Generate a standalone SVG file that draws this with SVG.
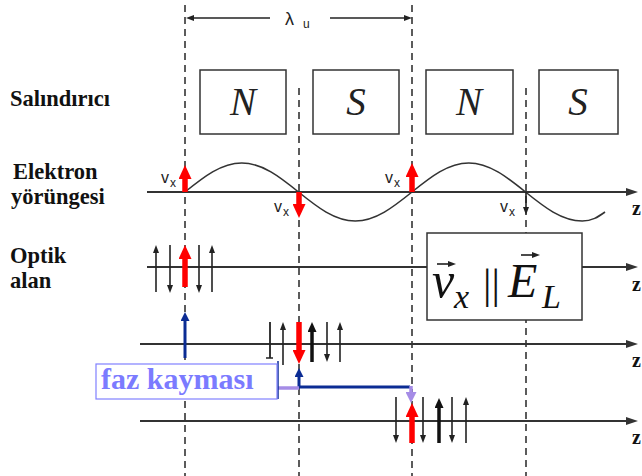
<svg xmlns="http://www.w3.org/2000/svg" width="642" height="476" viewBox="0 0 642 476">
<defs>
<marker id="mB" markerUnits="userSpaceOnUse" markerWidth="8" markerHeight="6" refX="1" refY="3" orient="auto"><path d="M0,0 L8,3 L0,6 z" fill="#222"/></marker>
<marker id="mK" markerUnits="userSpaceOnUse" markerWidth="10" markerHeight="9" refX="1" refY="4.5" orient="auto"><path d="M0,0 L10,4.5 L0,9 z" fill="#111"/></marker>
<marker id="mR" markerUnits="userSpaceOnUse" markerWidth="14" markerHeight="13" refX="1" refY="6.5" orient="auto"><path d="M0,0 L14,6.5 L0,13 z" fill="#ff0000"/></marker>
<marker id="mBl" markerUnits="userSpaceOnUse" markerWidth="9" markerHeight="9" refX="1" refY="4.5" orient="auto"><path d="M0,0 L9,4.5 L0,9 z" fill="#0b2c94"/></marker>
<marker id="mL" markerUnits="userSpaceOnUse" markerWidth="11" markerHeight="11" refX="1" refY="5.5" orient="auto"><path d="M0,0 L11,5.5 L0,11 z" fill="#a58ce6"/></marker>
<marker id="mA" markerUnits="userSpaceOnUse" markerWidth="12" markerHeight="8" refX="1" refY="4" orient="auto"><path d="M0,0 L12,4 L0,8 z" fill="#333"/></marker>
<marker id="mS" markerUnits="userSpaceOnUse" markerWidth="8" markerHeight="6" refX="1" refY="3" orient="auto"><path d="M0,0 L8,3 L0,6 z" fill="#222"/></marker>
</defs>
<style>
.dash{stroke:#333;stroke-width:1.6;stroke-dasharray:7,5;fill:none}
.axis{stroke:#333;stroke-width:2;fill:none;marker-end:url(#mA)}
.thin{stroke:#222;stroke-width:1.6;marker-end:url(#mB)}
.thick{stroke:#111;stroke-width:3.5;marker-end:url(#mK)}
.red{stroke:#ff0000;stroke-width:5.5;marker-end:url(#mR)}
.blue{stroke:#0b2c94;stroke-width:3;fill:none;marker-end:url(#mBl)}
.mag{fill:#fff;stroke:#333;stroke-width:1.5}
.serif{font-family:'Liberation Serif','Times New Roman',serif}
.pole{font-style:italic;font-size:39px;fill:#222;text-anchor:middle}
.lab{font-weight:bold;font-size:22.5px;fill:#111}
.vx{font-family:'Liberation Sans',Arial,sans-serif;font-size:16px;fill:#222}
.vxs{font-family:'Liberation Sans',Arial,sans-serif;font-size:12px;fill:#222}
.z{font-weight:bold;font-size:20px;fill:#111}
.math{font-style:italic;fill:#111}
</style>
<rect width="642" height="476" fill="#fff"/>

<g id="labels">
<text class="serif lab" x="10" y="106">Salındırıcı</text>
<text class="serif lab" x="13" y="179">Elektron</text>
<text class="serif lab" x="11" y="204">yörüngesi</text>
<text class="serif lab" x="10" y="263">Optik</text>
<text class="serif lab" x="10" y="288">alan</text>
</g>

<g id="dashed-lines">
<line class="dash" x1="185" y1="5" x2="185" y2="476"/>
<line class="dash" x1="299" y1="88" x2="299" y2="476"/>
<line class="dash" x1="412" y1="5" x2="412" y2="476"/>
<line class="dash" x1="526" y1="88" x2="526" y2="476"/>
</g>

<g id="lambda">
<line x1="270" y1="18" x2="193" y2="18" stroke="#222" stroke-width="1.5" marker-end="url(#mS)"/>
<line x1="330" y1="18" x2="405" y2="18" stroke="#222" stroke-width="1.5" marker-end="url(#mS)"/>
<text class="vx" x="285" y="25" style="font-size:18px">λ</text>
<text class="vxs" x="303" y="28">u</text>
</g>

<g id="magnet-N1"><rect class="mag" x="200" y="70" width="86" height="64"/><text class="serif pole" x="243" y="115">N</text></g>
<g id="magnet-S1"><rect class="mag" x="313" y="70" width="86" height="64"/><text class="serif pole" x="356" y="115">S</text></g>
<g id="magnet-N2"><rect class="mag" x="426" y="70" width="87" height="64"/><text class="serif pole" x="469" y="115">N</text></g>
<g id="magnet-S2"><rect class="mag" x="539" y="70" width="79" height="64"/><text class="serif pole" x="578" y="115">S</text></g>

<g id="connectors">
<line class="axis" x1="147" y1="192" x2="627" y2="192"/>
<line class="axis" x1="147" y1="267" x2="627" y2="267"/>
<line class="axis" x1="140" y1="344" x2="627" y2="344"/>
<line class="axis" x1="140" y1="421" x2="627" y2="421"/>
<path d="M185,192 C203.5,177.1 221.2,163 241.75,163 C262.3,163 280,177.1 298.5,192 C317,206.9 334.7,221 355.25,221 C375.8,221 393.5,206.9 412,192 C430.5,177.1 448.2,163 468.75,163 C489.3,163 507,177.1 525.5,192 C544,206.9 561.7,221 582.25,221 C592,221 598,217 605,212" fill="none" stroke="#333" stroke-width="1.6"/>
</g>

<g id="electron-arrows">
<line class="red" x1="185" y1="192" x2="185" y2="178"/>
<line class="red" x1="299" y1="192" x2="299" y2="205"/>
<line class="red" x1="412" y1="192" x2="412" y2="176"/>
<line class="thin" x1="526" y1="192" x2="526" y2="208"/>
<text class="vx" x="161" y="183">v</text><text class="vxs" x="170" y="187">x</text>
<text class="vx" x="274" y="212">v</text><text class="vxs" x="283" y="216">x</text>
<text class="vx" x="385" y="183">v</text><text class="vxs" x="394" y="187">x</text>
<text class="vx" x="500" y="212">v</text><text class="vxs" x="509" y="216">x</text>
</g>

<g id="field-1">
<line class="thin" x1="156" y1="292" x2="156" y2="252"/>
<line class="thin" x1="170" y1="245" x2="170" y2="286"/>
<line class="thin" x1="199" y1="245" x2="199" y2="286"/>
<line class="thin" x1="212" y1="292" x2="212" y2="252"/>
<line class="red" x1="185" y1="287" x2="185" y2="258"/>
</g>

<g id="field-2">
<line x1="270" y1="322" x2="270" y2="358" stroke="#222" stroke-width="1.8"/>
<line x1="266" y1="358" x2="273" y2="358" stroke="#222" stroke-width="1.5"/>
<line class="thin" x1="283" y1="365" x2="283" y2="329"/>
<line class="thick" x1="312" y1="362" x2="312" y2="331"/>
<line class="thin" x1="327" y1="322" x2="327" y2="355"/>
<line class="thin" x1="340" y1="362" x2="340" y2="329"/>
<line class="red" x1="299" y1="322" x2="299" y2="351"/>
</g>

<g id="field-3">
<line class="thin" x1="396" y1="397" x2="396" y2="436"/>
<line class="thin" x1="423" y1="397" x2="423" y2="436"/>
<line class="thick" x1="439" y1="443" x2="439" y2="407"/>
<line class="thin" x1="452" y1="397" x2="452" y2="436"/>
<line class="thin" x1="466" y1="443" x2="466" y2="404"/>
<line class="red" x1="412" y1="443" x2="412" y2="416"/>
</g>

<g id="phase-shift">
<line class="blue" x1="185" y1="358" x2="185" y2="320"/>
<path class="blue" d="M410,387 H299 V376"/>
<line x1="278" y1="388" x2="299" y2="388" stroke="#a58ce6" stroke-width="3.5"/>
<line x1="411" y1="386" x2="411" y2="393" stroke="#a58ce6" stroke-width="3.5" marker-end="url(#mL)"/>
<line x1="278" y1="361" x2="278" y2="399" stroke="#0b2c94" stroke-width="1.5"/>
</g>

<g id="faz-kaymasi">
<rect x="96" y="364" width="181" height="35" fill="#fff" stroke="#8080ff" stroke-width="1.2"/>
<text class="serif" x="101" y="389" font-weight="bold" font-size="30" fill="#7b7bff">faz kayması</text>
</g>

<g id="vx-parallel-EL">
<rect x="427" y="233" width="155" height="87" fill="#fff" stroke="#333" stroke-width="1.5"/>
<text class="serif math" x="432" y="297" font-size="50">v</text>
<text class="serif math" x="454" y="308" font-size="34">x</text>
<text class="serif" x="483" y="298" font-size="42" fill="#111">||</text>
<text class="serif math" x="508" y="297" font-size="48">E</text>
<text class="serif math" x="542" y="308" font-size="34">L</text>
<line x1="437" y1="264" x2="449" y2="264" stroke="#111" stroke-width="1.5" marker-end="url(#mS)"/>
<line x1="521" y1="255" x2="533" y2="255" stroke="#111" stroke-width="1.5" marker-end="url(#mS)"/>
</g>

<g id="z-labels">
<text class="serif z" x="632" y="215">z</text>
<text class="serif z" x="632" y="291">z</text>
<text class="serif z" x="632" y="367">z</text>
<text class="serif z" x="632" y="444">z</text>
</g>
</svg>
